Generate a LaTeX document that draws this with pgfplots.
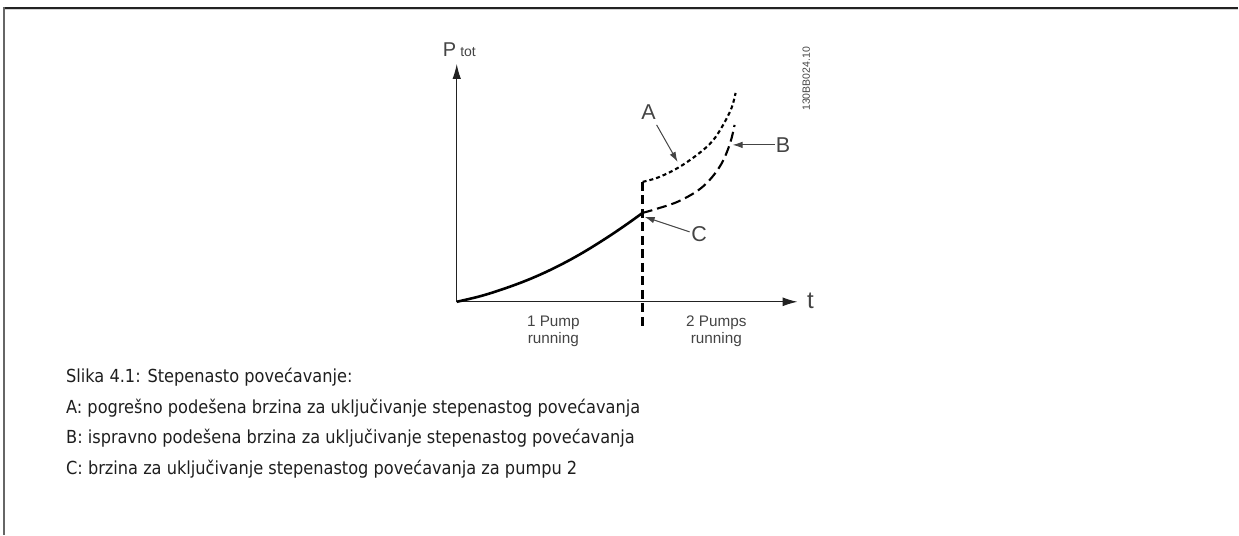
\documentclass[border=0pt]{standalone}
\usepackage{pgfplots}
\pgfplotsset{compat=1.18}
\usepackage{fontspec}
\setmainfont{Liberation Sans}
\newfontfamily\capfont{DejaVu Sans Condensed}
\usetikzlibrary{arrows.meta}
\definecolor{lbl}{HTML}{444444}
\definecolor{axc}{HTML}{222222}
\definecolor{capc}{HTML}{1E1E1E}
\begin{document}
\begin{tikzpicture}
\begin{axis}[
  scale only axis, width=1239pt, height=535pt,
  xmin=-457, xmax=782, ymin=-233, ymax=302,
  axis lines=none, ticks=none, clip=false,
]
% bounding box
\path (axis cs:-457,-233) rectangle (axis cs:782,302);
% frame
\draw[axc, line width=1.5pt] (axis cs:-454,294) -- (axis cs:782,294);
\draw[gray!35, line width=0.8pt] (axis cs:-452,292.2) -- (axis cs:782,292.2);
\draw[black!60, line width=1.2pt] (axis cs:-453,294.7) -- (axis cs:-453,-233);
% axes
\draw[axc, line width=1.1pt, -{Latex[length=15pt,width=8.5pt]}] (axis cs:0,0) -- (axis cs:0,238);
\draw[axc, line width=1.1pt, -{Latex[length=15pt,width=9pt]}] (axis cs:0,0) -- (axis cs:341,0);
% solid curve (1 pump)
\addplot[black, line width=2.6pt, smooth, tension=0.6] coordinates {
 (0,0) (25,6) (50,14) (75,23.5) (100,35) (125,48.5) (150,64) (170,77.5) (186,89)};
% vertical dashed switch line
\addplot[black, line width=3.6pt, dash pattern=on 9pt off 4.5pt] coordinates {
 (186,120) (186,-28)};
% curve A (dotted)
\addplot[black, line width=2.1pt, dash pattern=on 4pt off 3pt, smooth, tension=0.6] coordinates {
 (186,120) (190,121) (203,125) (223,135) (243,149) (256,161) (266,176) (275,194) (279,209)};
% curve B (dashed)
\addplot[black, line width=2.1pt, dash pattern=on 10pt off 5pt, smooth, tension=0.6] coordinates {
 (186,89) (200,93) (223,101) (246,115) (263,135) (273,157) (278,177)};
% pointer arrows
\draw[lbl, line width=1pt, -{Latex[length=10pt,width=6.5pt]}] (axis cs:200,177) -- (axis cs:221,140);
\draw[lbl, line width=1pt, -{Latex[length=10pt,width=6.5pt]}] (axis cs:318,157) -- (axis cs:276,157);
\draw[lbl, line width=1pt, -{Latex[length=10pt,width=6.5pt]}] (axis cs:233,70) -- (axis cs:188,85);
% labels
\node[lbl, inner sep=0pt] at (axis cs:192,189.5) {\fontsize{21.5}{21.5}\selectfont A};
\node[lbl, inner sep=0pt] at (axis cs:326.5,157) {\fontsize{21.5}{21.5}\selectfont B};
\node[lbl, inner sep=0pt] at (axis cs:242.5,67.5) {\fontsize{21.5}{21.5}\selectfont C};
\node[lbl, inner sep=0pt] at (axis cs:354,0.5) {\fontsize{24}{24}\selectfont t};
\node[lbl, inner sep=0pt, anchor=base west] at (axis cs:-14,245) {\fontsize{20}{20}\selectfont P\hspace{4pt}{\fontsize{14}{14}\selectfont tot}};
\node[lbl, inner sep=0pt, rotate=90] at (axis cs:349.7,223) {\fontsize{10.5}{10.5}\selectfont 130BB024.10};
\node[lbl, inner sep=0pt, anchor=base] at (axis cs:96.7,-24.7) {\fontsize{15.3}{15.3}\selectfont 1 Pump};
\node[lbl, inner sep=0pt, anchor=base] at (axis cs:96.7,-42) {\fontsize{15.3}{15.3}\selectfont running};
\node[lbl, inner sep=0pt, anchor=base] at (axis cs:259.7,-24.7) {\fontsize{15.3}{15.3}\selectfont 2 Pumps};
\node[lbl, inner sep=0pt, anchor=base] at (axis cs:259.7,-42) {\fontsize{15.3}{15.3}\selectfont running};
% caption
\node[capc, inner sep=0pt, anchor=base west] at (axis cs:-391,-81) {\capfont\fontsize{18}{18}\selectfont Slika 4.1: Stepenasto povećavanje:};
\node[capc, inner sep=0pt, anchor=base west] at (axis cs:-391,-111.5) {\capfont\fontsize{18}{18}\selectfont A: pogrešno podešena brzina za uključivanje stepenastog povećavanja};
\node[capc, inner sep=0pt, anchor=base west] at (axis cs:-391,-142) {\capfont\fontsize{18}{18}\selectfont B: ispravno podešena brzina za uključivanje stepenastog povećavanja};
\node[capc, inner sep=0pt, anchor=base west] at (axis cs:-391,-172.5) {\capfont\fontsize{18}{18}\selectfont C: brzina za uključivanje stepenastog povećavanja za pumpu 2};
\end{axis}
\end{tikzpicture}
\end{document}
